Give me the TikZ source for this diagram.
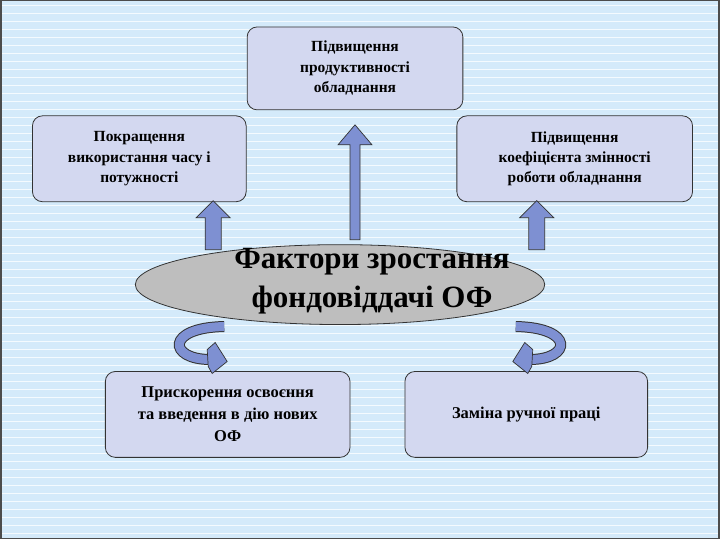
\documentclass[tikz,border=0pt]{standalone}
\usepackage{fontspec}
\usetikzlibrary{shapes.geometric}
\setmainfont{Liberation Serif}
\begin{document}
\begin{tikzpicture}[x=1pt,y=-1pt,
  box/.style={draw=black!80,line width=0.8pt,fill=boxc,rounded corners=10pt,align=center,font=\bfseries\fontsize{15.5}{20.5}\selectfont,inner sep=2pt},
  barrow/.style={draw=black!80,line width=0.7pt,fill=arrc},
  bgstripe/.style={draw=white!75!bgc,line width=1pt}]
\definecolor{bgc}{HTML}{D4EAFA}
\definecolor{boxc}{HTML}{D3D8F0}
\definecolor{arrc}{HTML}{7E90D2}
\definecolor{ellc}{HTML}{BEBEBE}
\fill[bgc] (0,0) rectangle (720,540);
\foreach \y in {6,14,...,534} \draw[bgstripe] (0,\y) -- (720,\y);
\draw[black!70,line width=1.2pt] (0.6,0.6) rectangle (719.4,539.4);
% boxes
\node[box,minimum width=216pt,minimum height=83pt] (top) at (355,68.5) {Підвищення\\продуктивності\\обладнання};
\node[box,minimum width=214pt,minimum height=86pt] (left) at (139,159) {Покращення\\використання часу і\\потужності};
\node[box,minimum width=236pt,minimum height=86pt] (right) at (575,159) {Підвищення\\коефіцієнта змінності\\роботи обладнання};
\node[box,minimum width=245pt,minimum height=86pt,font=\bfseries\fontsize{16.5}{22}\selectfont] (bl) at (227.5,415) {Прискорення освоєння\\та введення в дію нових\\ОФ};
\node[box,minimum width=243pt,minimum height=86pt,font=\bfseries\fontsize{16.5}{22}\selectfont] (br) at (526.5,415) {Заміна ручної праці};
% block arrows
\draw[barrow] (350,240) -- (350,145) -- (338,145) -- (355,125) -- (372,145) -- (360,145) -- (360,240) -- cycle;
\draw[barrow] (205,250) -- (205,218) -- (196,218) -- (213,201) -- (230,218) -- (221,218) -- (221,250) -- cycle;
\draw[barrow] (529,250) -- (529,218) -- (520,218) -- (537,201) -- (554,218) -- (545,218) -- (545,250) -- cycle;
% ellipse
\node[draw=black!80,line width=0.8pt,fill=ellc,ellipse,minimum width=410pt,minimum height=80pt,inner sep=0pt] (ell) at (340,285) {};
\node[align=center,font=\bfseries\fontsize{31}{39}\selectfont] (elt) at (372,282) {Фактори зростання\\фондовіддачі ОФ};
% curved arrows
\coordinate (l1) at (224,327);
\coordinate (l2) at (210,360);
\draw[black!80,line width=11pt] (l1) .. controls (165,328) and (168,360) .. (l2);
\draw[arrc,line width=9pt] (l1) .. controls (165,328) and (168,360) .. (l2);
\draw[barrow] (207,350) -- (215,343) -- (227,362) -- (212,374) -- (208,367) -- cycle;
\coordinate (r1) at (516,327);
\coordinate (r2) at (530,360);
\draw[black!80,line width=11pt] (r1) .. controls (575,328) and (572,360) .. (r2);
\draw[arrc,line width=9pt] (r1) .. controls (575,328) and (572,360) .. (r2);
\draw[barrow] (533,350) -- (525,343) -- (513,362) -- (528,374) -- (532,367) -- cycle;
\end{tikzpicture}
\end{document}
